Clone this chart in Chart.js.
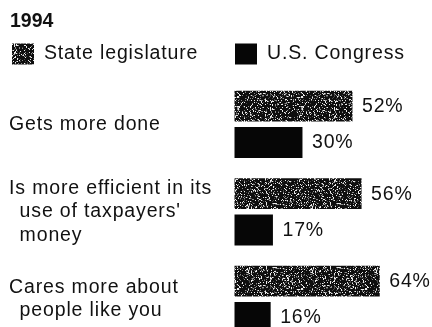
<!DOCTYPE html>
<html>
<head>
<meta charset="utf-8">
<script src="https://cdn.jsdelivr.net/npm/chart.js@4/dist/chart.umd.min.js"></script>
<style>
  html, body { margin: 0; padding: 0; background: #fff; overflow: hidden; width: 432px; height: 327px; }
  canvas { display: block; }
</style>
</head>
<body>
<canvas id="c" width="432" height="345"></canvas>
<script>
// Survey: which body does better, state legislature or U.S. Congress (1994)
const title = '1994';
const categories = [
  ['Gets more done'],
  ['Is more efficient in its', '\u2002use of taxpayers\'', '\u2002money'],
  ['Cares more about', '\u2002people like you']
];
const seriesNames = ['State legislature', 'U.S. Congress'];
const stateLegislature = [52, 56, 64];
const usCongress = [30, 17, 16];

const FONT = "'Liberation Sans', Arial, Helvetica, sans-serif";
const INK = '#111111';
const TRACKING = '0.85px';
const canvas = document.getElementById('c');
const mainCtx = canvas.getContext('2d');

// Grainy halftone-like fill for the state legislature bars
function speckledFill() {
  const size = 64;
  const tile = document.createElement('canvas');
  tile.width = tile.height = size;
  const g = tile.getContext('2d');
  const img = g.createImageData(size, size);
  let s = 20240611;
  for (let i = 0; i < size * size; i++) {
    s = (Math.imul(s, 1103515245) + 12345) >>> 0;
    const r = (s >>> 16) % 100;
    let v = 14;
    if (r < 11) v = 235;
    else if (r < 20) v = 140;
    else if (r < 27) v = 70;
    img.data[i * 4] = img.data[i * 4 + 1] = img.data[i * 4 + 2] = v;
    img.data[i * 4 + 3] = 255;
  }
  g.putImageData(img, 0, 0);
  return mainCtx.createPattern(tile, 'repeat');
}
const grain = speckledFill();

// Title, legend row and value labels
const annotations = {
  id: 'annotations',
  beforeDraw(chart) {
    chart.ctx.letterSpacing = TRACKING;
  },
  afterDraw(chart) {
    const ctx = chart.ctx;
    const xs = chart.scales.x;
    ctx.save();
    ctx.textAlign = 'left';
    ctx.textBaseline = 'alphabetic';
    ctx.fillStyle = INK;
    ctx.letterSpacing = '0px';
    ctx.font = `bold 19.5px ${FONT}`;
    ctx.fillText(title, 10, 26.7);

    ctx.letterSpacing = TRACKING;
    ctx.font = `19.5px ${FONT}`;
    const itemX = [12, xs.left + 0.7];
    chart.data.datasets.forEach((ds, i) => {
      ctx.fillStyle = ds.backgroundColor;
      ctx.fillRect(itemX[i], 43.5, 22, 21);
      ctx.fillStyle = INK;
      ctx.fillText(ds.label, itemX[i] + 32, 58.6);
    });

    ctx.textBaseline = 'middle';
    chart.data.datasets.forEach((ds, i) => {
      chart.getDatasetMeta(i).data.forEach((bar, j) => {
        ctx.fillText(ds.data[j] + '%', bar.x + 9.5, bar.y + 0.5);
      });
    });
    ctx.restore();
  }
};

new Chart(canvas, {
  type: 'bar',
  data: {
    labels: categories,
    datasets: [
      { label: seriesNames[0], data: stateLegislature, backgroundColor: grain, borderWidth: 0 },
      { label: seriesNames[1], data: usCongress, backgroundColor: '#060606', borderWidth: 0 }
    ]
  },
  options: {
    indexAxis: 'y',
    responsive: false,
    animation: false,
    events: [],
    layout: { padding: { left: 9, top: 80.6, right: 0, bottom: 1.9 } },
    datasets: { bar: { categoryPercentage: 0.833, barPercentage: 0.85 } },
    scales: {
      x: { display: false, min: 0, max: 87 },
      y: {
        grid: { display: false },
        border: { display: false },
        ticks: {
          crossAlign: 'far',
          padding: 0,
          color: INK,
          font: { family: FONT, size: 19.5, lineHeight: 1.2 }
        },
        afterFit(scale) {
          scale.width = 225.3;
          scale.paddingTop = 0;
          scale.paddingBottom = 0;
        }
      }
    },
    plugins: {
      legend: { display: false },
      title: { display: false },
      tooltip: { enabled: false }
    }
  },
  plugins: [annotations]
});
</script>
</body>
</html>
